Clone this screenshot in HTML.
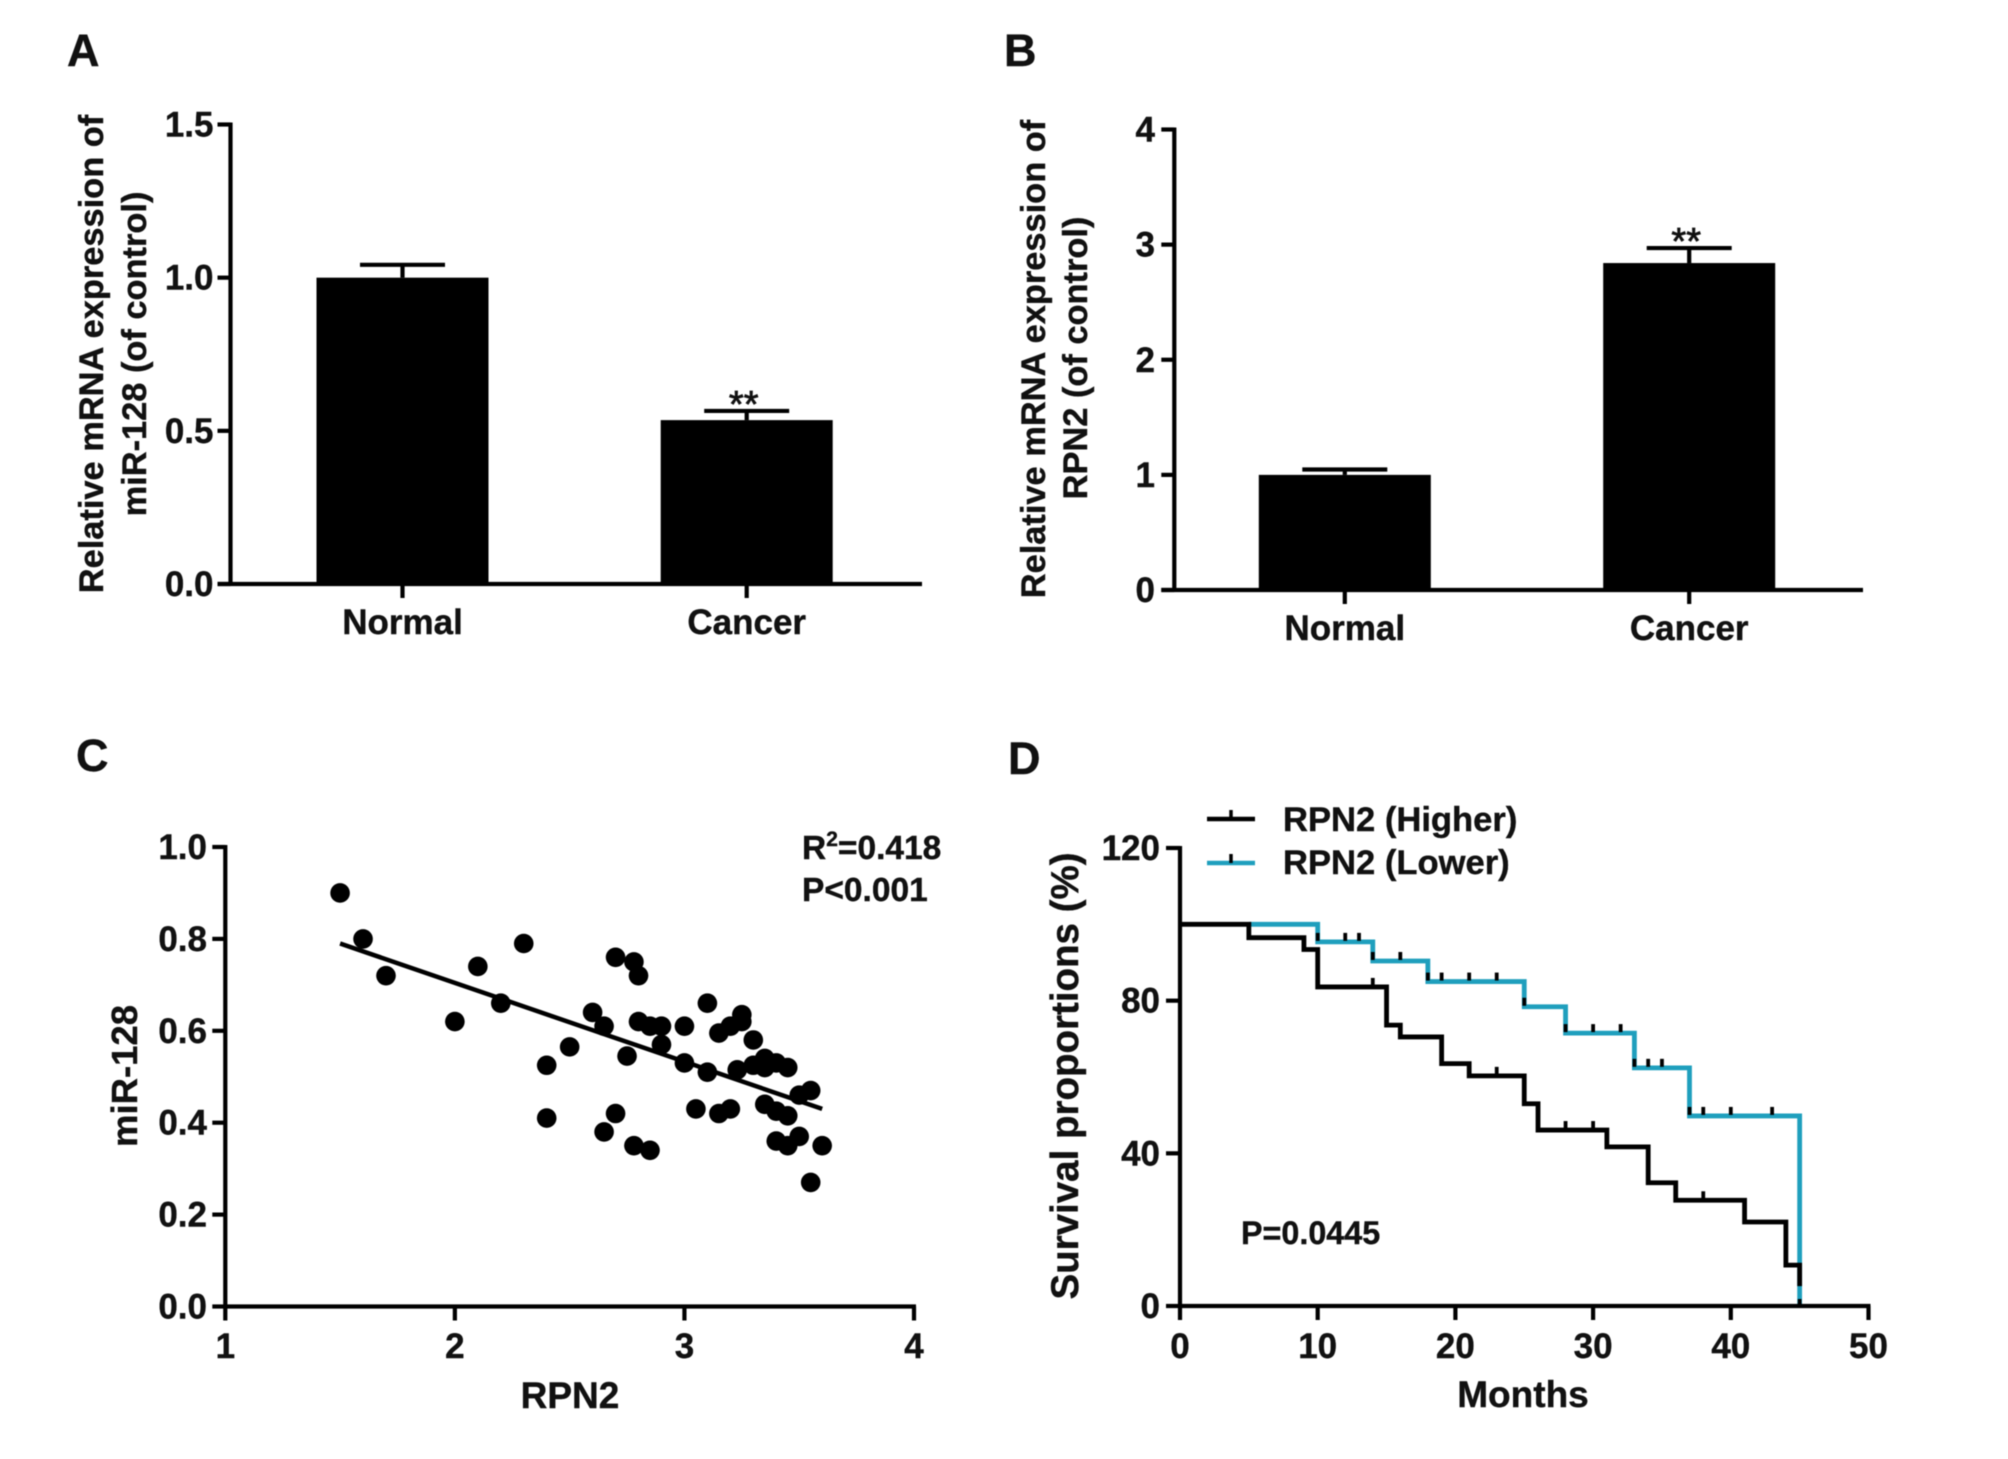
<!DOCTYPE html>
<html lang="en">
<head>
<meta charset="utf-8">
<title>miR-128 and RPN2 expression, correlation and survival</title>
<style>
  html, body { margin: 0; padding: 0; background: #fff; }
  svg { display: block; filter: blur(0.6px); }
  text { font-family: "Liberation Sans", Arial, sans-serif; font-weight: bold; fill: #111; stroke: #111; stroke-width: 0.4px; }
  .letter { font-size: 45px; }
  .tick { font-size: 35px; }
  .cat { font-size: 35px; }
  .title { font-size: 34.4px; }
  .note { font-size: 33.5px; }
  .legend { font-size: 34.6px; }
  .star { font-size: 38px; font-weight: normal; stroke-width: 0.8px; }
</style>
</head>
<body>
<svg id="figure" xmlns="http://www.w3.org/2000/svg" width="2008" height="1459" viewBox="0 0 2008 1459">
  <rect x="0" y="0" width="2008" height="1459" fill="#fff"/>

  <text class="letter" x="67" y="66">A</text>
  <text class="letter" x="1004" y="66">B</text>
  <text class="letter" x="76" y="771">C</text>
  <text class="letter" x="1008" y="774">D</text>

  <g>
    <text class="title" text-anchor="middle" transform="translate(103 354) rotate(-90)">Relative mRNA expression of</text>
    <text class="title" text-anchor="middle" transform="translate(146 354) rotate(-90)">miR-128 (of control)</text>
  </g>
  <g>
    <text class="title" text-anchor="middle" transform="translate(1045 359) rotate(-90)">Relative mRNA expression of</text>
    <text class="title" text-anchor="middle" transform="translate(1087 358) rotate(-90)">RPN2 (of control)</text>
  </g>
  <text font-size="36.5" text-anchor="middle" transform="translate(137 1076) rotate(-90)">miR-128</text>
  <text font-size="37" text-anchor="middle" x="570" y="1408">RPN2</text>
  <text font-size="38.5" text-anchor="middle" transform="translate(1078 1076) rotate(-90)">Survival proportions (%)</text>
  <text font-size="37" text-anchor="middle" x="1523" y="1407">Months</text>

  <text class="note" x="802" y="859">R<tspan font-size="21" dy="-13">2</tspan><tspan dy="13">=0.418</tspan></text>
  <text class="note" x="802" y="901">P&lt;0.001</text>
  <text font-size="32.3" x="1241" y="1244">P=0.0445</text>

  <g id="panel-a"></g>
  <g id="panel-b"></g>
  <g id="panel-c"></g>
  <g id="panel-d"></g>

  <g>
    <line x1="1207" y1="819" x2="1255" y2="819" stroke="#000" stroke-width="4.5"/>
    <line x1="1231" y1="810" x2="1231" y2="819" stroke="#000" stroke-width="3.5"/>
    <text class="legend" x="1283" y="831">RPN2 (Higher)</text>
  </g>
  <g>
    <line x1="1207" y1="863" x2="1255" y2="863" stroke="#1f9fbd" stroke-width="4.5"/>
    <line x1="1231" y1="854" x2="1231" y2="863" stroke="#000" stroke-width="3.5"/>
    <text class="legend" x="1283" y="874">RPN2 (Lower)</text>
  </g>
</svg>

<script>
// ---------- Panel A data ----------
const aCategories = ['Normal', 'Cancer'];
const aValues = [1.0, 0.535];
const aErrors = [0.042, 0.03];
const aTicks = [0, 0.5, 1.0, 1.5];
const aTickLabels = ['0.0', '0.5', '1.0', '1.5'];
const aStars = ['', '**'];

// ---------- Panel B data ----------
const bCategories = ['Normal', 'Cancer'];
const bValues = [1.0, 2.84];
const bErrors = [0.047, 0.13];
const bTicks = [0, 1, 2, 3, 4];
const bTickLabels = ['0', '1', '2', '3', '4'];
const bStars = ['', '**'];

// ---------- Panel C data ----------
const cPointsX = [1.5, 1.6, 1.7, 2.0, 2.1, 2.2, 2.3, 2.4, 2.4, 2.5, 2.6, 2.65, 2.65, 2.7, 2.7, 2.75, 2.78, 2.8, 2.8, 2.78, 2.85, 2.85, 2.9, 2.9, 3.0, 3.0, 3.05, 3.1, 3.1, 3.15, 3.15, 3.2, 3.2, 3.23, 3.25, 3.25, 3.3, 3.3, 3.35, 3.35, 3.4, 3.35, 3.4, 3.45, 3.45, 3.4, 3.45, 3.5, 3.5, 3.55, 3.55, 3.6];
const cPointsY = [0.9, 0.8, 0.72, 0.62, 0.74, 0.66, 0.79, 0.525, 0.41, 0.565, 0.64, 0.61, 0.38, 0.76, 0.42, 0.545, 0.75, 0.72, 0.62, 0.35, 0.61, 0.34, 0.61, 0.57, 0.61, 0.53, 0.43, 0.66, 0.51, 0.595, 0.42, 0.61, 0.43, 0.515, 0.62, 0.635, 0.58, 0.525, 0.54, 0.52, 0.53, 0.44, 0.425, 0.415, 0.52, 0.36, 0.35, 0.37, 0.46, 0.47, 0.27, 0.35];
const cFitX = [1.5, 3.6];
const cFitY = [0.79, 0.43];
const cXTicks = [1, 2, 3, 4];
const cXTickLabels = ['1', '2', '3', '4'];
const cYTicks = [0, 0.2, 0.4, 0.6, 0.8, 1.0];
const cYTickLabels = ['0.0', '0.2', '0.4', '0.6', '0.8', '1.0'];

// ---------- Panel D data ----------
const higherMonths = [0, 5, 9, 10, 15, 16, 19, 21, 25, 26, 31, 34, 36, 41, 44, 45];
const higherSurvival = [100, 96.5, 93.4, 83.6, 73.6, 70.5, 63.5, 60.3, 53, 46.1, 41.7, 32.3, 27.7, 22, 10.7, 5.2];
const lowerMonths = [5, 10, 14, 18, 25, 28, 33, 37, 45];
const lowerSurvival = [100, 95.4, 90.4, 85, 78.4, 71.5, 62.4, 49.8, 0];
const higherCensorMonths = [14, 23, 28, 30, 38];
const lowerCensorMonths = [10, 12, 13, 14, 16, 18, 19, 21, 23, 25, 28, 30, 32, 33, 34, 35, 37, 38, 40, 43];
const dXTicks = [0, 10, 20, 30, 40, 50];
const dXTickLabels = ['0', '10', '20', '30', '40', '50'];
const dYTicks = [0, 40, 80, 120];
const dYTickLabels = ['0', '40', '80', '120'];

// ---------- Shared drawing ----------
const SVG_NS = 'http://www.w3.org/2000/svg';
const INK = '#000';
const AXIS_WIDTH = 4.2;
const TEAL = '#1f9fbd';

function linearScale(domainMin, domainMax, rangeMin, rangeMax) {
  return function (v) {
    return rangeMin + (v - domainMin) / (domainMax - domainMin) * (rangeMax - rangeMin);
  };
}

function addLine(parent, x1, y1, x2, y2, color, width) {
  const el = document.createElementNS(SVG_NS, 'line');
  el.setAttribute('x1', x1);
  el.setAttribute('y1', y1);
  el.setAttribute('x2', x2);
  el.setAttribute('y2', y2);
  el.setAttribute('stroke', color);
  el.setAttribute('stroke-width', width);
  parent.appendChild(el);
  return el;
}

function addLabel(parent, x, y, str, anchor, cls) {
  const el = document.createElementNS(SVG_NS, 'text');
  el.setAttribute('x', x);
  el.setAttribute('y', y);
  el.setAttribute('text-anchor', anchor);
  el.setAttribute('class', cls);
  el.textContent = str;
  parent.appendChild(el);
  return el;
}

function drawYAxis(parent, axisX, top, bottom, tickLeft, labelRight, ticks, labels, yScale) {
  const axis = addLine(parent, axisX, top - 2, axisX, bottom + 2, INK, AXIS_WIDTH);
  
  
  ticks.forEach(function (t, i) {
    const mark = addLine(parent, tickLeft, yScale(t), axisX, yScale(t), INK, AXIS_WIDTH);
    
    
    const lab = addLabel(parent, labelRight, yScale(t) + 12, labels[i], 'end', 'tick');
    
    
  });
}

function drawNumericXAxis(parent, left, right, axisY, tickBottom, labelBaseline, ticks, labels, xScale) {
  const axis = addLine(parent, left, axisY, right, axisY, INK, AXIS_WIDTH);
  
  
  ticks.forEach(function (t, i) {
    const mark = addLine(parent, xScale(t), axisY, xScale(t), tickBottom, INK, AXIS_WIDTH);
    
    
    const lab = addLabel(parent, xScale(t), labelBaseline, labels[i], 'middle', 'tick');
    
    
  });
}

function drawBarPanel(parent, layout, categories, values, errors, ticks, labels, stars) {
  const yScale = linearScale(layout.yMin, layout.yMax, layout.bottom, layout.top);
  const halfBar = layout.barWidth / 2;

  categories.forEach(function (cat, i) {
    const cx = layout.firstCenter + i * layout.step;
    const yTop = yScale(values[i]);
    const yErr = yScale(values[i] + errors[i]);

    const whisker = addLine(parent, cx, yTop, cx, yErr, INK, AXIS_WIDTH);
    
    

    const cap = addLine(parent, cx - layout.capHalf, yErr, cx + layout.capHalf, yErr, INK, AXIS_WIDTH);
    
    

    const bar = document.createElementNS(SVG_NS, 'rect');
    bar.setAttribute('x', cx - halfBar);
    bar.setAttribute('y', yTop);
    bar.setAttribute('width', layout.barWidth);
    bar.setAttribute('height', layout.bottom - yTop);
    bar.setAttribute('fill', INK);
    
    
    parent.appendChild(bar);

    const mark = addLine(parent, cx, layout.bottom, cx, layout.bottom + 14, INK, AXIS_WIDTH);
    
    

    const lab = addLabel(parent, cx, layout.bottom + 50, cat, 'middle', 'cat');
    
    

    if (stars[i]) {
      const star = addLabel(parent, cx - 3, yErr + 6, stars[i], 'middle', 'star');
      
      
    }
  });

  const xAxis = addLine(parent, layout.axisX - 13, layout.bottom, layout.right, layout.bottom, INK, AXIS_WIDTH);
  
  

  drawYAxis(parent, layout.axisX, layout.top, layout.bottom, layout.axisX - 13, layout.labelRight, ticks, labels, yScale);
}

// ---------- Panels A and B ----------
drawBarPanel(document.getElementById('panel-a'),
  { axisX: 230.5, top: 124.5, bottom: 584, right: 922, yMin: 0, yMax: 1.5, firstCenter: 402.5, step: 344.2, barWidth: 172, capHalf: 42.5, labelRight: 213.5 },
  aCategories, aValues, aErrors, aTicks, aTickLabels, aStars);

drawBarPanel(document.getElementById('panel-b'),
  { axisX: 1174.3, top: 129.5, bottom: 590, right: 1863, yMin: 0, yMax: 4, firstCenter: 1344.8, step: 344.4, barWidth: 172, capHalf: 42.5, labelRight: 1155 },
  bCategories, bValues, bErrors, bTicks, bTickLabels, bStars);

// ---------- Panel C ----------
(function () {
  const parent = document.getElementById('panel-c');
  const x = linearScale(1, 4, 225.3, 914);
  const y = linearScale(0, 1, 1306.5, 847);

  drawYAxis(parent, x(1), y(1), y(0), x(1) - 13, 207, cYTicks, cYTickLabels, y);
  drawNumericXAxis(parent, x(1), x(4) + 2, y(0), y(0) + 14, 1358, cXTicks, cXTickLabels, x);

  cPointsX.forEach(function (px, i) {
    const dot = document.createElementNS(SVG_NS, 'circle');
    dot.setAttribute('cx', x(px));
    dot.setAttribute('cy', y(cPointsY[i]));
    dot.setAttribute('r', 9.8);
    dot.setAttribute('fill', INK);
    
    
    parent.appendChild(dot);
  });

  const fit = addLine(parent, x(cFitX[0]), y(cFitY[0]), x(cFitX[1]), y(cFitY[1]), INK, 4.5);
  
  
})();

// ---------- Panel D ----------
function stepPath(xs, ys, x, y) {
  let d = 'M' + x(xs[0]) + ' ' + y(ys[0]);
  for (let i = 1; i < xs.length; i++) {
    d += ' H' + x(xs[i]) + ' V' + y(ys[i]);
  }
  return d;
}

function stepValueAt(xs, ys, m) {
  let v = ys[0];
  for (let i = 0; i < xs.length; i++) {
    if (xs[i] <= m) v = ys[i];
  }
  return v;
}

(function () {
  const parent = document.getElementById('panel-d');
  const x = linearScale(0, 50, 1180, 1868.5);
  const y = linearScale(0, 120, 1306, 848);

  const lower = document.createElementNS(SVG_NS, 'path');
  lower.setAttribute('d', stepPath(lowerMonths, lowerSurvival, x, y));
  lower.setAttribute('fill', 'none');
  lower.setAttribute('stroke', TEAL);
  lower.setAttribute('stroke-width', 4.8);
  
  
  parent.appendChild(lower);

  const higher = document.createElementNS(SVG_NS, 'path');
  higher.setAttribute('d', stepPath(higherMonths, higherSurvival, x, y));
  higher.setAttribute('fill', 'none');
  higher.setAttribute('stroke', INK);
  higher.setAttribute('stroke-width', 4.8);
  
  
  parent.appendChild(higher);

  higherCensorMonths.forEach(function (m) {
    const yv = y(stepValueAt(higherMonths, higherSurvival, m));
    const mark = addLine(parent, x(m), yv - 9, x(m), yv, INK, 3.8);
    
    
  });

  lowerCensorMonths.forEach(function (m) {
    const yv = y(stepValueAt(lowerMonths, lowerSurvival, m));
    const mark = addLine(parent, x(m), yv - 9, x(m), yv - 1, INK, 3.8);
    
    
  });

  const endMark = addLine(parent, x(45), y(0) - 7, x(45), y(0), INK, 3.8);
  
  

  drawYAxis(parent, x(0), y(120), y(0), x(0) - 14, 1160, dYTicks, dYTickLabels, y);
  drawNumericXAxis(parent, x(0), x(50) + 2, y(0), y(0) + 14, 1358, dXTicks, dXTickLabels, x);
})();
</script>
</body>
</html>
